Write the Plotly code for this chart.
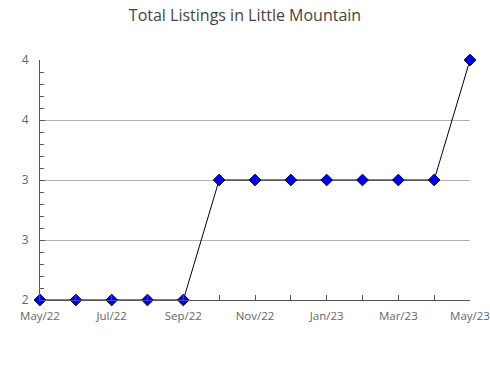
import plotly.graph_objects as go

months = ["May/22", "Jun/22", "Jul/22", "Aug/22", "Sep/22", "Oct/22", "Nov/22",
          "Dec/22", "Jan/23", "Feb/23", "Mar/23", "Apr/23", "May/23"]
listings = [2, 2, 2, 2, 2, 3, 3, 3, 3, 3, 3, 3, 4]
y_tick_vals = [2, 2.5, 3, 3.5, 4]
y_tick_labels = ["2", "3", "3", "4", "4"]

x_idx = list(range(len(months)))
x_labels = [m if i % 2 == 0 else "" for i, m in enumerate(months)]

fig = go.Figure()
fig.add_trace(go.Scatter(
    x=x_idx, y=listings, mode="lines+markers",
    line=dict(color="black", width=1),
    marker=dict(symbol="diamond", size=9, color="#0000ff",
                line=dict(color="black", width=1)),
    cliponaxis=False, showlegend=False,
))

font = "Open Sans"
fig.update_layout(
    width=490, height=380,
    margin=dict(l=40, r=20, t=60, b=80),
    paper_bgcolor="white", plot_bgcolor="white",
    title=dict(text="Total Listings in Little Mountain", x=0.5, xanchor="center",
               y=1 - 15 / 380, yanchor="middle",
               font=dict(family=font, size=16, color="#444444")),
    font=dict(family=font),
)
fig.update_xaxes(
    range=[0, 12], tickvals=x_idx, ticktext=x_labels, automargin=False,
    ticks="inside", ticklen=5, tickcolor="#555555",
    showline=True, linecolor="#555555", linewidth=1,
    showgrid=False, zeroline=False, ticklabelstandoff=5,
    tickfont=dict(family=font, size=11.5, color="#666666"),
)
fig.update_yaxes(
    range=[2, 4], tickvals=y_tick_vals, ticktext=y_tick_labels, automargin=False,
    ticks="inside", ticklen=5, tickcolor="#555555",
    showline=True, linecolor="#555555", linewidth=1,
    showgrid=True, gridcolor="#b0b0b0", gridwidth=1, zeroline=False,
    ticklabelstandoff=8,
    tickfont=dict(family=font, size=12, color="#666666"),
    minor=dict(dtick=0.1, ticks="inside", ticklen=4, tickcolor="#555555", showgrid=False),
)
fig.write_html("out.html")
